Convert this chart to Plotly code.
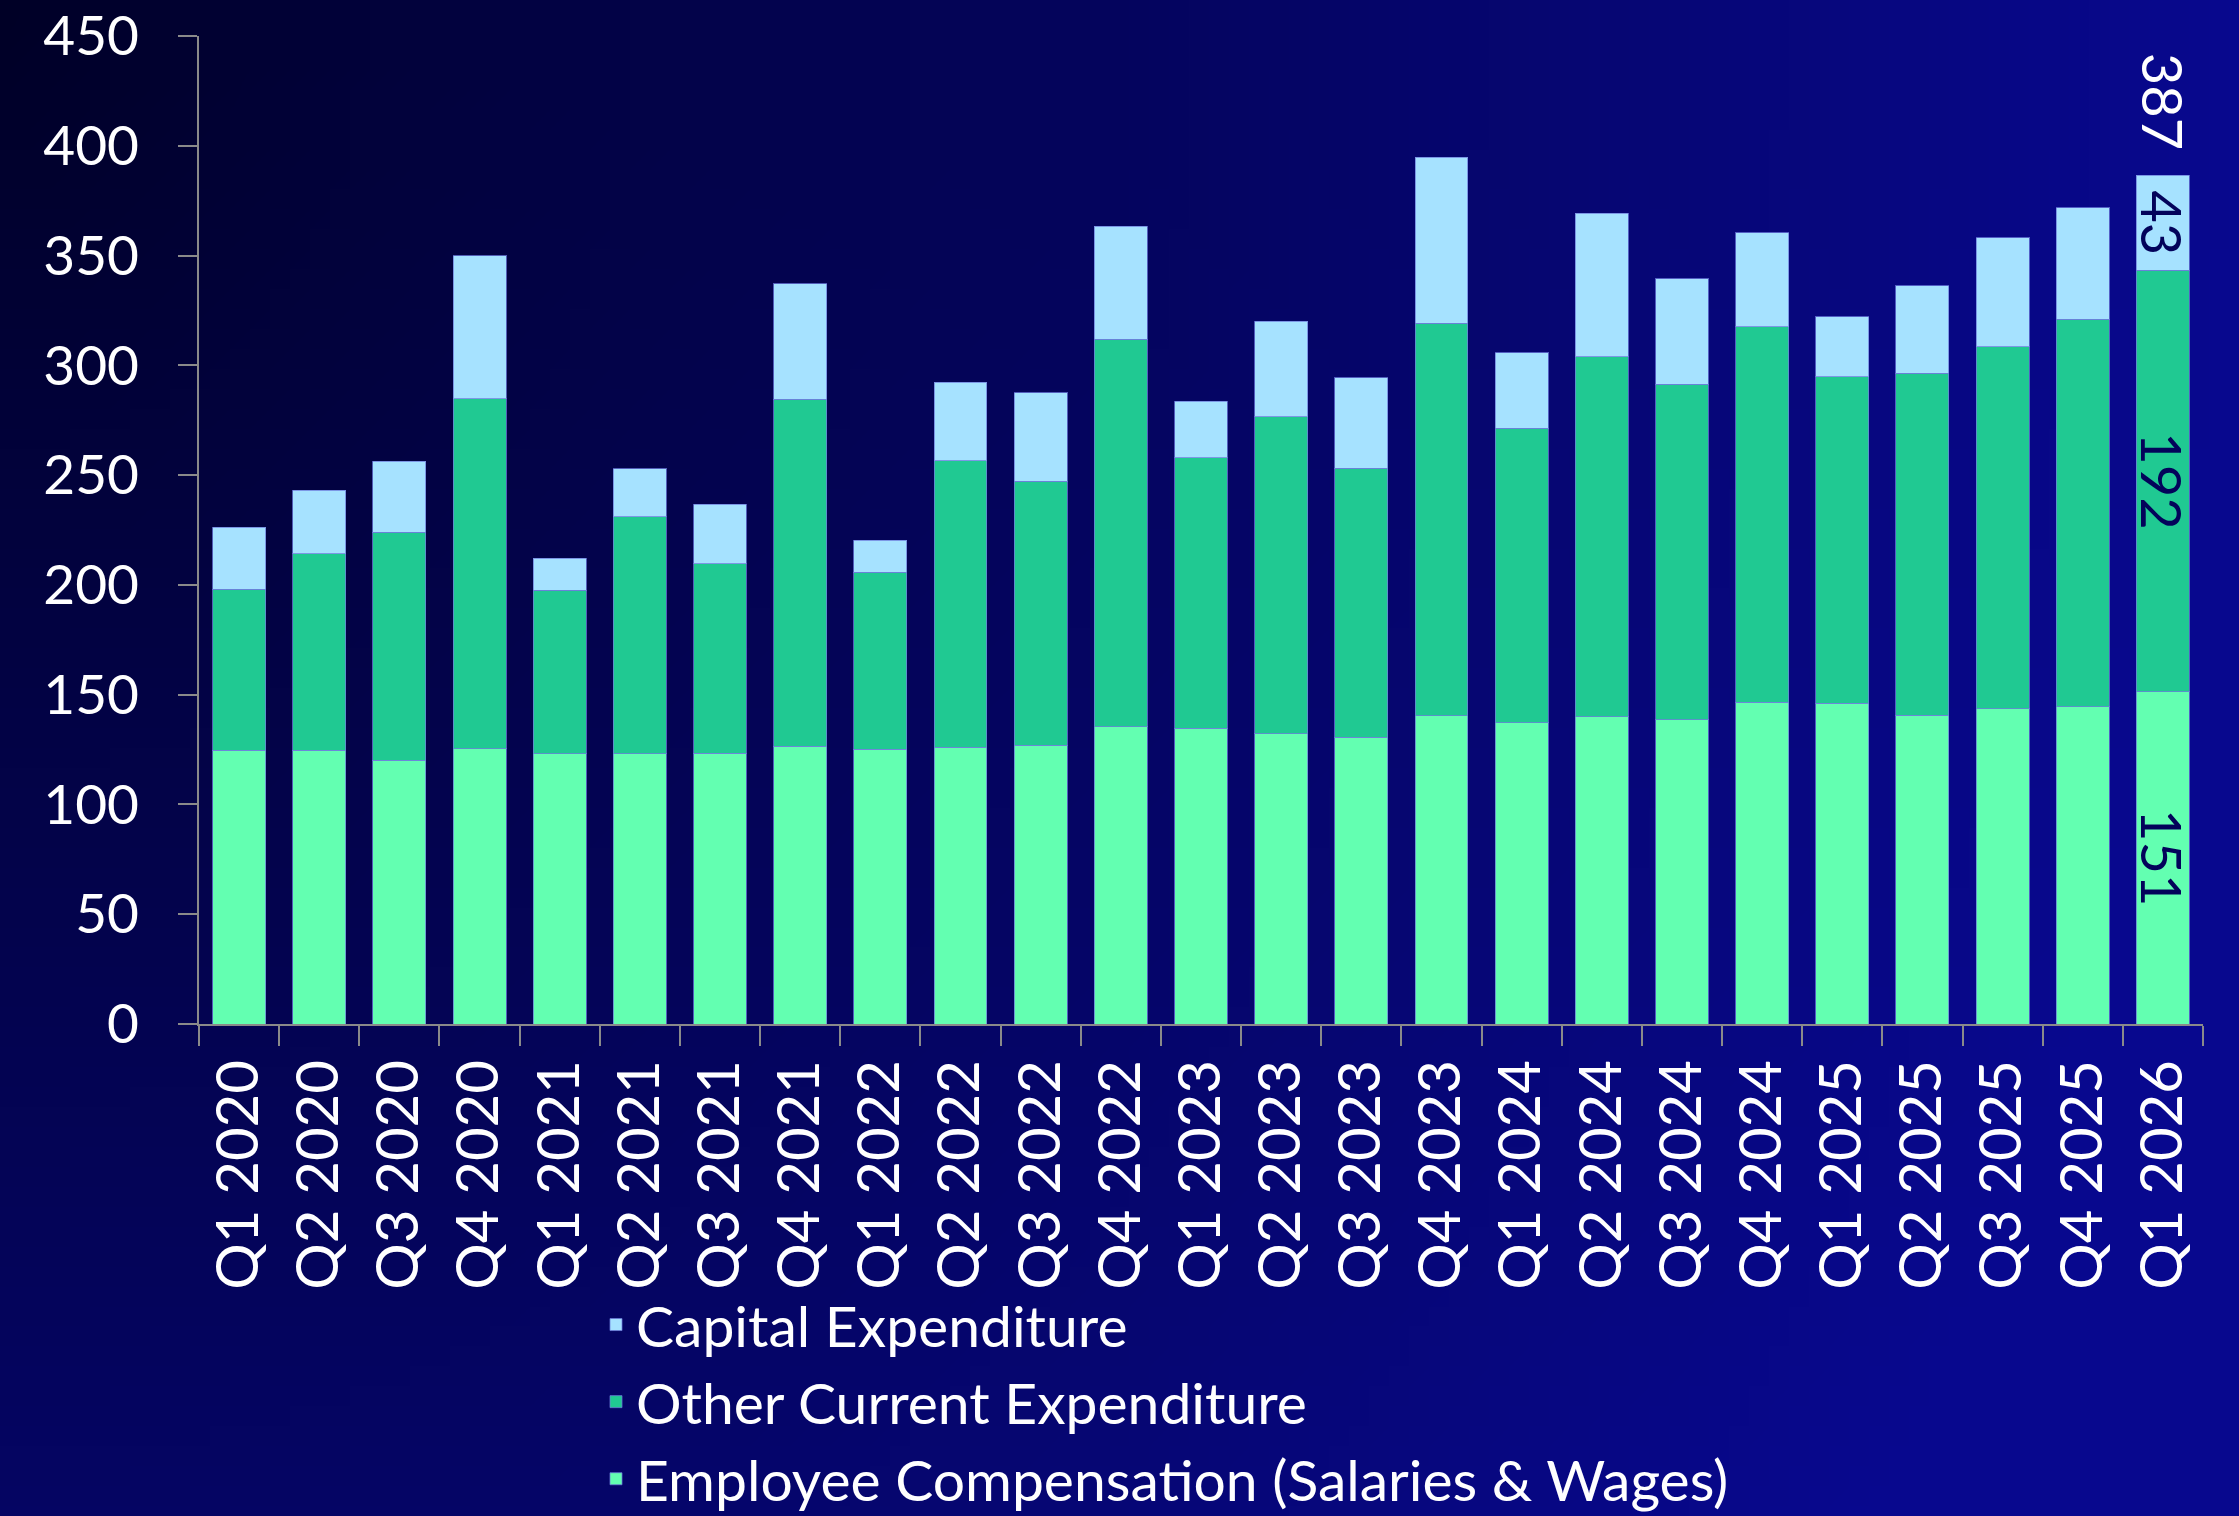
import base64
import struct
import zlib

import plotly.graph_objects as go

# ---------------- data ----------------
categories = [
    "Q1 2020", "Q2 2020", "Q3 2020", "Q4 2020",
    "Q1 2021", "Q2 2021", "Q3 2021", "Q4 2021",
    "Q1 2022", "Q2 2022", "Q3 2022", "Q4 2022",
    "Q1 2023", "Q2 2023", "Q3 2023", "Q4 2023",
    "Q1 2024", "Q2 2024", "Q3 2024", "Q4 2024",
    "Q1 2025", "Q2 2025", "Q3 2025", "Q4 2025",
    "Q1 2026",
]
employee_comp = [
    124.6, 124.6, 120.2, 125.3,
    123.0, 123.0, 123.4, 126.6,
    125.2, 126.1, 126.9, 135.4,
    134.8, 132.1, 130.7, 140.5,
    137.3, 140.0, 138.6, 146.5,
    146.1, 140.6, 143.5, 144.5,
    151.4,
]
other_current = [
    73.5, 89.5, 103.8, 159.5,
    74.5, 108.1, 86.3, 157.9,
    80.6, 130.5, 120.4, 176.4,
    123.2, 144.5, 122.4, 178.7,
    134.1, 163.9, 152.7, 171.1,
    148.6, 155.7, 164.9, 176.4,
    191.8,
]
capital_exp = [
    28.2, 29.1, 32.3, 65.2,
    14.7, 21.7, 27.1, 52.7,
    14.5, 35.8, 40.2, 51.6,
    25.6, 43.4, 41.2, 75.6,
    34.4, 65.3, 48.1, 42.8,
    27.4, 39.9, 49.8, 50.8,
    43.4,
]
series_names = [
    "Employee Compensation (Salaries & Wages)",
    "Other Current Expenditure",
    "Capital Expenditure",
]
y_ticks = [0, 50, 100, 150, 200, 250, 300, 350, 400, 450]

# ---------------- styling ----------------
FONT = "Lato, 'Open Sans', 'DejaVu Sans', sans-serif"
colors = ["#63FFB1", "#20C992", "#A6E2FF"]
label_color = "#03035a"
axis_gray = "#8a8a8a"

W, H = 2239, 1516
ML, MR, MT, MB = 199, 36, 36, 492
PW, PH = W - ML - MR, H - MT - MB


def gradient_png(w, h):
    dark = (0, 0, 38)
    bright = (8, 8, 142)
    rows = []
    for j in range(h):
        v = j / (h - 1)
        row = bytearray(b"\x00")
        for i in range(w):
            u = i / (w - 1)
            f = min(1.0, (u * u + (0.55 * v) ** 2) ** 0.5)
            f = f ** 0.9
            row += bytes(int(round(dark[k] + (bright[k] - dark[k]) * f)) for k in range(3))
        rows.append(bytes(row))
    raw = b"".join(rows)

    def chunk(tag, data):
        return (struct.pack(">I", len(data)) + tag + data
                + struct.pack(">I", zlib.crc32(tag + data) & 0xFFFFFFFF))

    png = (b"\x89PNG\r\n\x1a\n"
           + chunk(b"IHDR", struct.pack(">IIBBBBB", w, h, 8, 2, 0, 0, 0))
           + chunk(b"IDAT", zlib.compress(raw, 9))
           + chunk(b"IEND", b""))
    return "data:image/png;base64," + base64.b64encode(png).decode()


n = len(categories)
stack = [employee_comp, other_current, capital_exp]
totals = [a + b + c for a, b, c in zip(*stack)]

fig = go.Figure()
for name, vals, col in zip(series_names, stack, colors):
    txt = [""] * (n - 1) + [f"{round(vals[-1])}"]
    fig.add_trace(go.Bar(
        x=categories, y=vals, name=name,
        marker=dict(color=col, line=dict(color="rgba(110,125,220,0.75)", width=1)),
        text=txt, textposition="inside", insidetextanchor="middle",
        textangle=90, constraintext="none",
        textfont=dict(family=FONT, size=56, color=label_color),
        hoverinfo="x+y+name",
    ))

fig.add_annotation(
    x=categories[-1], y=totals[-1], xref="x", yref="y",
    text=f"{round(totals[-1])}", showarrow=False, textangle=90,
    yanchor="bottom", xanchor="center", yshift=23,
    font=dict(family=FONT, size=56, color="white"),
)

fig.add_layout_image(dict(
    source=gradient_png(112, 76), xref="paper", yref="paper",
    x=-ML / PW, y=1 + MT / PH, sizex=W / PW, sizey=H / PH,
    xanchor="left", yanchor="top", sizing="stretch", layer="below",
))

fig.update_layout(
    width=W, height=H,
    margin=dict(l=ML, r=MR, t=MT, b=MB, pad=0, autoexpand=False),
    barmode="stack", bargap=0.34,
    paper_bgcolor="#040460", plot_bgcolor="rgba(0,0,0,0)",
    font=dict(family=FONT, color="white"),
    uniformtext=dict(minsize=56, mode="show"),
    showlegend=True,
    legend=dict(
        traceorder="reversed", orientation="v",
        x=(596 - ML) / PW, xanchor="left",
        y=(MT + PH - 1281) / PH, yanchor="top",
        font=dict(family=FONT, size=57, color="white"),
        bgcolor="rgba(0,0,0,0)", borderwidth=0,
    ),
    xaxis=dict(
        type="category", tickangle=-90, tickson="boundaries",
        ticks="outside", ticklen=20, tickwidth=2, tickcolor=axis_gray,
        showline=True, linecolor=axis_gray, linewidth=2,
        showgrid=False, zeroline=False, automargin=False,
        tickfont=dict(family=FONT, size=58, color="white"),
        ticklabelstandoff=11,
    ),
    yaxis=dict(
        range=[0, 450], tickvals=y_ticks,
        ticks="outside", ticklen=19, tickwidth=2, tickcolor=axis_gray,
        showline=True, linecolor=axis_gray, linewidth=2,
        showgrid=False, zeroline=False, automargin=False,
        tickfont=dict(family=FONT, size=55, color="white"),
        ticklabelstandoff=28,
    ),
)

fig.write_html(
    "out.html",
    config={"displayModeBar": False},
    post_script="document.body.style.margin='0';document.body.style.overflow='hidden';",
)
